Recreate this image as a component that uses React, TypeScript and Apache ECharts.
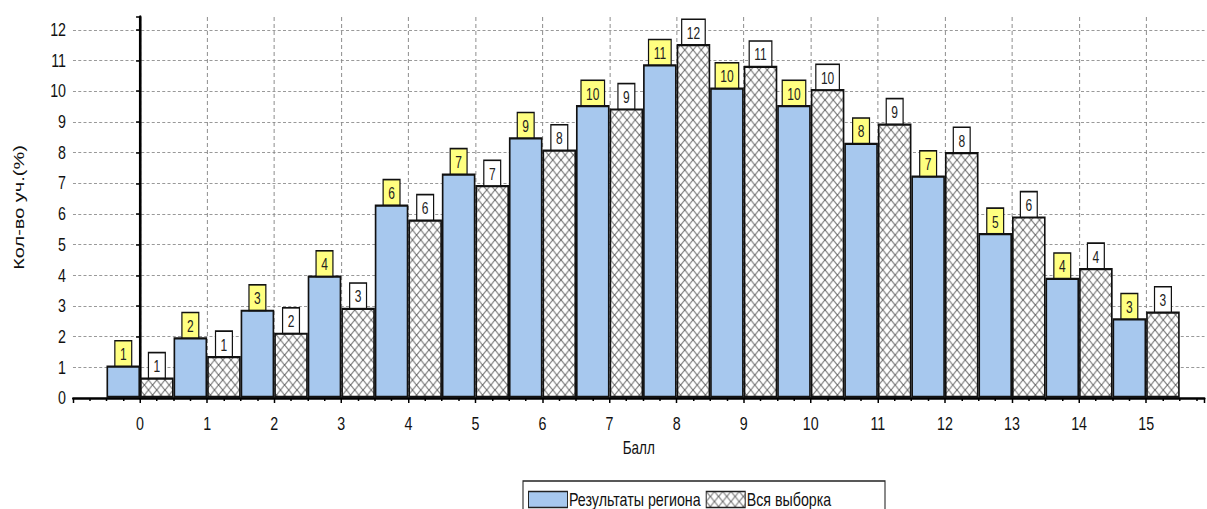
import React, { useEffect, useRef } from "react";
import * as echarts from "echarts";

const scores = [0, 1, 2, 3, 4, 5, 6, 7, 8, 9, 10, 11, 12, 13, 14, 15];
const regionValues = [1.06, 1.98, 2.88, 3.99, 6.31, 7.32, 8.5, 9.55, 10.88, 10.12, 9.55, 8.32, 7.25, 5.38, 3.92, 2.6];
const sampleValues = [0.67, 1.37, 2.13, 2.94, 5.82, 6.94, 8.1, 9.44, 11.54, 10.83, 10.07, 8.95, 8.02, 5.92, 4.24, 2.82];
const regionLabels = [1, 2, 3, 4, 6, 7, 9, 10, 11, 10, 10, 8, 7, 5, 4, 3];
const sampleLabels = [1, 1, 2, 3, 6, 7, 8, 9, 12, 11, 10, 9, 8, 6, 4, 3];
const seriesNames = ["Результаты региона", "Вся выборка"];
const xAxisName = "Балл";
const yAxisName = "Кол-во уч.(%)";

const FONT = "'Liberation Sans', Arial, sans-serif";
// The reference uses a horizontally condensed face; the whole chart is drawn wider and squeezed.
const S = 0.75;
const W = 1207;
const H = 509;
const px = (v: number) => v / S;

export default function App() {
  const ref = useRef<HTMLDivElement>(null);
  useEffect(() => {
    if (!ref.current) return;
    const chart = echarts.init(ref.current, null, { renderer: "svg" });

    const tw = 11;
    const th = 10;
    const canvas = document.createElement("canvas");
    canvas.width = tw;
    canvas.height = th;
    const ctx = canvas.getContext("2d")!;
    ctx.fillStyle = "#ffffff";
    ctx.fillRect(0, 0, tw, th);
    ctx.strokeStyle = "#666666";
    ctx.lineWidth = 1.1;
    ctx.beginPath();
    ctx.moveTo(0, 0);
    ctx.lineTo(tw, th);
    ctx.moveTo(tw, 0);
    ctx.lineTo(0, th);
    ctx.stroke();
    const hatch: any = { image: canvas, repeat: "repeat", imageWidth: tw, imageHeight: th };

    const labelBase = {
      show: true,
      position: "top",
      distance: 0,
      color: "#222",
      fontSize: 16,
      fontFamily: FONT,
      borderColor: "#111",
      borderWidth: 1.6,
      padding: [5, 6, 3, 6],
    };

    const gridLine = { color: "#8a8a8a", type: [4, 3], width: 1 };

    const option: any = {
      animation: false,
      backgroundColor: "#ffffff",
      grid: { left: px(73), right: 0, top: 17, bottom: 111 },
      xAxis: {
        type: "value",
        min: -1,
        max: 15.87,
        interval: 1,
        name: xAxisName,
        nameLocation: "middle",
        nameGap: 41,
        nameTextStyle: { fontSize: 18, fontFamily: FONT, color: "#111" },
        axisLine: { show: true, lineStyle: { color: "#000", width: 2.5 } },
        axisTick: { show: true, length: 5, lineStyle: { color: "#000", width: 2 } },
        minorTick: { show: true, splitNumber: 4, length: 3, lineStyle: { color: "#000", width: 2 } },
        axisLabel: {
          margin: 16,
          fontSize: 19,
          fontFamily: FONT,
          color: "#111",
          formatter: (v: number) => (Number.isInteger(v) && v >= 0 ? String(v) : ""),
        },
        splitLine: {
          show: true,
          showMinLine: false,
          showMaxLine: false,
          lineStyle: { ...gridLine, width: 1.3 },
        },
      },
      yAxis: {
        type: "value",
        min: 0,
        max: 12.42,
        interval: 1,
        name: yAxisName,
        nameLocation: "middle",
        nameGap: 62,
        nameRotate: 90,
        nameTextStyle: { fontSize: 20, fontFamily: FONT, color: "#111" },
        axisLine: { show: true, lineStyle: { color: "#000", width: 3.5 } },
        axisTick: { show: true, length: px(4), lineStyle: { color: "#000", width: 1.5 } },
        axisLabel: {
          margin: px(7),
          fontSize: 19,
          fontFamily: FONT,
          color: "#111",
          formatter: (v: number) => (Number.isInteger(v) ? String(v) : ""),
        },
        splitLine: {
          show: true,
          showMinLine: false,
          showMaxLine: false,
          lineStyle: gridLine,
        },
      },
      legend: {
        left: px(528),
        top: 490,
        padding: 0,
        itemWidth: px(39),
        itemHeight: 16,
        itemGap: px(5),
        icon: "rect",
        itemStyle: { borderColor: "#222", borderWidth: 1.3 },
        textStyle: { fontSize: 19, fontFamily: FONT, color: "#111", padding: [0, 0, 0, -3] },
        data: seriesNames,
      },
      graphic: [
        {
          type: "rect",
          shape: { x: px(523), y: 481, width: px(362), height: 40 },
          style: { fill: "none", stroke: "#222", lineWidth: 1.4 },
          z: 10,
        },
      ],
      series: [
        {
          name: seriesNames[0],
          type: "bar",
          barWidth: px(33.6),
          barGap: "0%",
          data: scores.map((s, i) => [s, regionValues[i]]),
          itemStyle: { color: "#a7c8ee", borderColor: "#111", borderWidth: 2.2 },
          label: {
            ...labelBase,
            backgroundColor: "#ffff80",
            formatter: (p: any) => String(regionLabels[p.dataIndex]),
          },
        },
        {
          name: seriesNames[1],
          type: "bar",
          barWidth: px(33.6),
          barGap: "0%",
          data: scores.map((s, i) => [s, sampleValues[i]]),
          itemStyle: { color: hatch, borderColor: "#111", borderWidth: 2.2 },
          label: {
            ...labelBase,
            backgroundColor: "#ffffff",
            formatter: (p: any) => String(sampleLabels[p.dataIndex]),
          },
        },
      ],
    };
    chart.setOption(option);
    return () => chart.dispose();
  }, []);
  return (
    <div
      style={{
        position: "fixed",
        left: 0,
        top: 0,
        width: W,
        height: H,
        overflow: "hidden",
        background: "#fff",
      }}
    >
      <div
        ref={ref}
        style={{
          width: W / S,
          height: H,
          transform: `scaleX(${S})`,
          transformOrigin: "0 0",
        }}
      />
    </div>
  );
}
